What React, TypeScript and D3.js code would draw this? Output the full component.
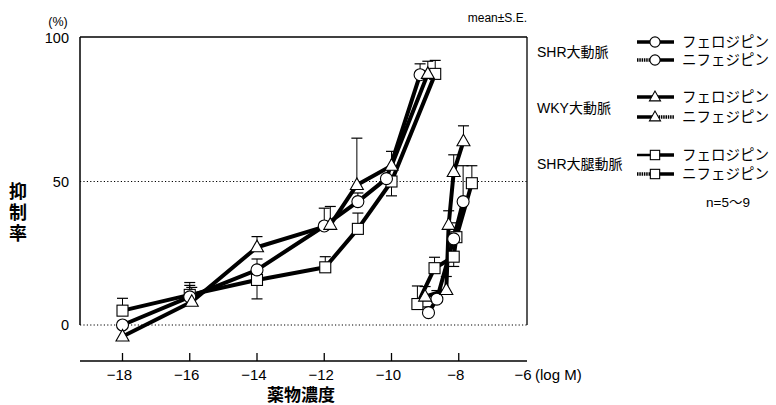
import React from "react";
import * as d3 from "d3";

// ---- data ----
const xTicks = [-18, -16, -14, -12, -10, -8, -6];
const yTicks = [0, 50, 100];

// SHR aorta (circle)
const shrAortaFeloX = [-18, -16, -14, -12, -11, -10.15, -9.15];
const shrAortaFeloY = [0, 9.8, 19.2, 34.5, 43, 51, 87.2];
const shrAortaFeloE = [0, 4, 3.8, 6.2, 3, 0, 3.8];
const shrAortaNifeX = [-8.9, -8.65, -8.15, -7.87];
const shrAortaNifeY = [4.3, 9, 30, 43];
const shrAortaNifeE = [2, 3, 4, 12.5];

// WKY aorta (triangle)
const wkyAortaFeloX = [-18, -15.94, -14, -11.82, -11.03, -10, -8.92];
const wkyAortaFeloY = [-4, 8.1, 27.1, 34.9, 48.8, 55.5, 87.5];
const wkyAortaFeloE = [0, 5, 3.7, 6.4, 16.3, 5, 4.4];
const wkyAortaNifeX = [-9.0, -8.37, -8.3, -8.15, -7.86];
const wkyAortaNifeY = [9.9, 12.2, 34.9, 53.3, 64];
const wkyAortaNifeE = [3.5, 4.7, 4.9, 6, 5.4];

// SHR femoral artery (square); negative error = bar drawn downward
const shrFemFeloX = [-18, -16, -14, -11.97, -11, -10, -8.7];
const shrFemFeloY = [5, 10.5, 15.7, 20.1, 33.5, 50, 87.5];
const shrFemFeloE = [4.3, 4.3, -6.6, 3.7, 5.5, -5, 4.7];
const shrFemNifeX = [-9.23, -8.72, -8.15, -8.07, -7.61];
const shrFemNifeY = [7.3, 19.8, 23.8, 30.6, 49.4];
const shrFemNifeE = [6.3, 3.8, -3.4, 5, 6.1];

const groupLabels = ["SHR大動脈", "WKY大動脈", "SHR大腿動脈"];
const drugLabels = ["フェロジピン", "ニフェジピン"];
const groupShapes = ["circle", "triangle", "square"];

type Shape = "circle" | "triangle" | "square";
interface Series { xs: number[]; ys: number[]; es: number[]; shape: Shape; }

const seriesList: Series[] = [
  { xs: shrFemFeloX, ys: shrFemFeloY, es: shrFemFeloE, shape: "square" },
  { xs: shrAortaFeloX, ys: shrAortaFeloY, es: shrAortaFeloE, shape: "circle" },
  { xs: wkyAortaFeloX, ys: wkyAortaFeloY, es: wkyAortaFeloE, shape: "triangle" },
  { xs: shrFemNifeX, ys: shrFemNifeY, es: shrFemNifeE, shape: "square" },
  { xs: shrAortaNifeX, ys: shrAortaNifeY, es: shrAortaNifeE, shape: "circle" },
  { xs: wkyAortaNifeX, ys: wkyAortaNifeY, es: wkyAortaNifeE, shape: "triangle" },
];

const FONT = "'Liberation Sans', Arial, 'Noto Sans CJK JP', sans-serif";

function Marker({ shape, cx, cy, s = 1 }: { shape: Shape; cx: number; cy: number; s?: number }) {
  const common = { fill: "#fff", stroke: "#000", strokeWidth: 1.1 };
  if (shape === "circle") return <circle cx={cx} cy={cy} r={6 * s} {...common} />;
  if (shape === "square")
    return <rect x={cx - 5.5 * s} y={cy - 5.5 * s} width={11 * s} height={11 * s} {...common} />;
  const h = 6.5 * s;
  return (
    <polygon
      points={`${cx},${cy - 7 * s} ${cx - h},${cy + 4.5 * s} ${cx + h},${cy + 4.5 * s}`}
      {...common}
    />
  );
}

export default function App() {
  const W = 776, H = 405;
  const x = d3.scaleLinear().domain([-18, -6]).range([122.5, 526]);
  const y = d3.scaleLinear().domain([0, 100]).range([325, 38]);
  const left = 80, right = 527, top = 37;
  const axisY = 361;
  const fmt = d3.format("");

  const line = d3
    .line<[number, number]>()
    .x((d) => x(d[0]))
    .y((d) => y(d[1]));

  const legendRows = [42, 60, 97, 117, 155, 174];
  const groupY = [52, 108, 164];

  return (
    <svg
      width={W}
      height={H}
      style={{ position: "absolute", left: 0, top: 0, background: "#fff" }}
      fontFamily={FONT}
    >
      <rect x={0} y={0} width={W} height={H} fill="#fff" />
      {/* frame */}
      <line x1={left} y1={top} x2={right} y2={top} stroke="#000" strokeWidth={1.3} />
      <line x1={left} y1={top} x2={left} y2={y(0)} stroke="#000" strokeWidth={1.5} />
      <line x1={right} y1={top} x2={right} y2={y(0)} stroke="#000" strokeWidth={1.3} />
      {[0, 50].map((v) => (
        <line key={v} x1={left} x2={right} y1={y(v)} y2={y(v)} stroke="#000"
          strokeWidth={1} strokeDasharray="1.2 2.2" />
      ))}
      {/* y labels */}
      {yTicks.map((v) => (
        <text key={v} x={69} y={y(v)} dy="0.35em" textAnchor="end" fontSize={14.5}>
          {v}
        </text>
      ))}
      <text x={58} y={22} dy="0.35em" textAnchor="middle" fontSize={12.5}>(%)</text>
      {["抑", "制", "率"].map((c, i) => (
        <text key={c} x={18} y={192 + i * 21} dy="0.35em" textAnchor="middle" fontSize={18}
          fontWeight="bold">{c}</text>
      ))}
      <text x={right} y={18} dy="0.35em" textAnchor="end" fontSize={12}>mean±S.E.</text>

      {/* x axis */}
      <line x1={left} x2={right} y1={axisY} y2={axisY} stroke="#000" strokeWidth={1.5} />
      {xTicks.slice(0, -1).map((v) => (
        <line key={v} x1={x(v)} x2={x(v)} y1={axisY} y2={axisY - 8} stroke="#000" strokeWidth={1.3} />
      ))}
      {xTicks.map((v) => (
        <text key={v} x={x(v) - 3} y={375} dy="0.35em" textAnchor="middle" fontSize={15}>
          {fmt(v)}
        </text>
      ))}
      <text x={535} y={375} dy="0.35em" fontSize={15}>(log M)</text>
      <text x={301} y={395} dy="0.35em" textAnchor="middle" fontSize={17} fontWeight="bold">
        薬物濃度
      </text>

      {/* series lines */}
      {seriesList.map((s, i) => (
        <path key={"l" + i}
          d={line(s.xs.map((v, j) => [v, s.ys[j]] as [number, number])) || ""}
          fill="none" stroke="#000" strokeWidth={4} strokeLinejoin="round" />
      ))}
      {/* error bars */}
      {seriesList.map((s, i) =>
        s.xs.map((v, j) => {
          const e = s.es[j];
          if (!e) return null;
          const cx = x(v);
          const y0 = y(s.ys[j]);
          const y1 = y(s.ys[j] + e);
          return (
            <g key={"e" + i + "-" + j}>
              <line x1={cx} x2={cx} y1={y0} y2={y1} stroke="#000" strokeWidth={1} />
              <line x1={cx - 5.5} x2={cx + 5.5} y1={y1} y2={y1} stroke="#000" strokeWidth={1.2} />
            </g>
          );
        })
      )}
      {/* markers */}
      {seriesList.map((s, i) =>
        s.xs.map((v, j) => (
          <Marker key={"m" + i + "-" + j} shape={s.shape} cx={x(v)} cy={y(s.ys[j])} />
        ))
      )}

      {/* legend */}
      {groupLabels.map((g, i) => (
        <text key={g} x={537} y={groupY[i]} dy="0.35em" fontSize={14}>{g}</text>
      ))}
      {legendRows.map((ry, k) => {
        const gi = Math.floor(k / 2);
        const shape = groupShapes[gi] as Shape;
        const nife = k % 2 === 1;
        const leftDash = (nife && gi !== 1) ? "1.5 0.8" : undefined;
        const rightDash = (nife && gi === 1) ? "1.5 0.8" : undefined;
        return (
          <g key={"lg" + k}>
            <line x1={637} x2={654} y1={ry} y2={ry} stroke="#000" strokeWidth={k === 4 ? 2.5 : 3.5}
              strokeDasharray={leftDash} />
            <line x1={654} x2={674} y1={ry} y2={ry} stroke="#000" strokeWidth={3.5}
              strokeDasharray={rightDash} />
            <Marker shape={shape} cx={655} cy={ry} s={0.85} />
            <text x={682} y={ry} dy="0.35em" fontSize={14.5}>{drugLabels[k % 2]}</text>
          </g>
        );
      })}
      <text x={728} y={202} dy="0.35em" textAnchor="middle" fontSize={13.5}>n=5〜9</text>
    </svg>
  );
}
